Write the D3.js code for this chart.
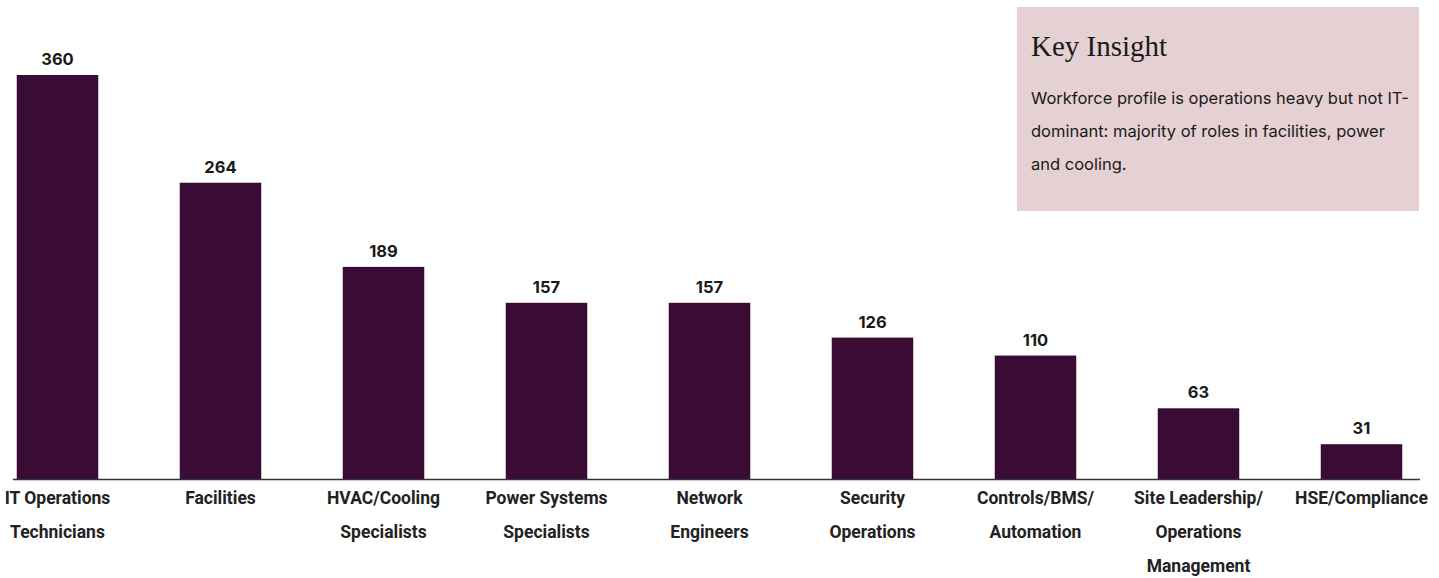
<!DOCTYPE html>
<html>
<head>
<meta charset="utf-8">
<script src="https://cdn.jsdelivr.net/npm/d3@7"></script>
<style>
  html, body { margin: 0; padding: 0; background: #ffffff; }
  svg { display: block; }
</style>
</head>
<body>
<svg id="chart" width="1439" height="578"></svg>
<script>
// Headcount by role
const roles = [
  "IT Operations|Technicians",
  "Facilities",
  "HVAC/Cooling|Specialists",
  "Power Systems|Specialists",
  "Network|Engineers",
  "Security|Operations",
  "Controls/BMS/|Automation",
  "Site Leadership/|Operations|Management",
  "HSE/Compliance"
];
const headcount = [360, 264, 189, 157, 157, 126, 110, 63, 31];

const insightTitle = "Key Insight";
const insightLines = [
  "Workforce profile is operations heavy but not IT-",
  "dominant: majority of roles in facilities, power",
  "and cooling."
];

const svg = d3.select("#chart");
const baseY = 479;

const x = d3.scaleBand()
  .domain(roles)
  .range([-24, 1443])
  .paddingInner(0.5)
  .paddingOuter(0.25);

const y = d3.scaleLinear()
  .domain([0, 360])
  .range([baseY, 75]);

const data = roles.map((r, i) => ({ role: r, value: headcount[i] }));
const cx = d => x(d.role) + x.bandwidth() / 2;

// bars
svg.append("g")
  .selectAll("rect")
  .data(data)
  .join("rect")
  .attr("x", d => x(d.role))
  .attr("y", d => y(d.value))
  .attr("width", x.bandwidth())
  .attr("height", d => y(0) - y(d.value))
  .attr("fill", "#3a0b34");

// baseline axis
const axis = d3.axisBottom(x).tickSize(0).tickFormat("");
const gAxis = svg.append("g")
  .attr("transform", `translate(0,${baseY})`)
  .call(axis);
gAxis.select(".domain")
  .attr("d", "M13,0.5H1420")
  .attr("stroke", "#333333")
  .attr("stroke-width", 1.5);

// category labels (multi-line)
const labels = svg.append("g")
  .attr("font-family", "Roboto, 'Liberation Sans', sans-serif")
  .attr("font-weight", 700)
  .attr("font-size", 17.5)
  .attr("fill", "#222222")
  .attr("text-anchor", "middle");

data.forEach(d => {
  const t = labels.append("text")
    .attr("x", cx(d))
    .attr("y", 504);
  d.role.split("|").forEach((line, k) => {
    t.append("tspan")
      .attr("x", cx(d))
      .attr("y", 504 + k * 34)
      .text(line);
  });
});

// value labels
svg.append("g")
  .attr("font-family", "Inter, 'Noto Sans', sans-serif")
  .attr("font-weight", 700)
  .attr("font-size", 16.5)
  .attr("fill", "#1a1a1a")
  .attr("text-anchor", "middle")
  .selectAll("text")
  .data(data)
  .join("text")
  .attr("x", cx)
  .attr("y", d => y(d.value) - 10)
  .text(d => d.value);

// insight panel
const panel = svg.append("g");
panel.append("rect")
  .attr("x", 1017).attr("y", 7)
  .attr("width", 402).attr("height", 204)
  .attr("fill", "#e5d1d3");
panel.append("text")
  .attr("x", 1031).attr("y", 56)
  .attr("font-family", "'Liberation Serif', 'DejaVu Serif', serif")
  .attr("font-size", 29)
  .attr("fill", "#1a1a1a")
  .text(insightTitle);
panel.append("g")
  .attr("font-family", "Inter, 'Noto Sans', sans-serif")
  .attr("font-size", 16.5)
  .attr("fill", "#1a1a1a")
  .selectAll("text")
  .data(insightLines)
  .join("text")
  .attr("x", 1031)
  .attr("y", (d, i) => 104 + i * 33)
  .text(d => d);
</script>
</body>
</html>
